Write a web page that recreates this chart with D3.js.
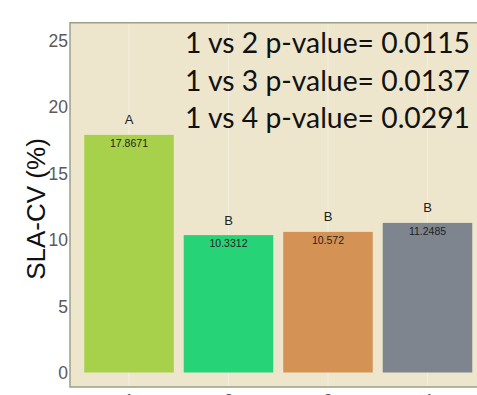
<!DOCTYPE html>
<html>
<head>
<meta charset="utf-8">
<script src="https://cdn.jsdelivr.net/npm/d3@7"></script>
<style>
  html, body { margin: 0; padding: 0; background: #ffffff; overflow: hidden; }
  svg { display: block; }
</style>
</head>
<body>
<svg id="chart" width="477" height="395"></svg>
<script>
// Groups, mean SLA-CV values and significance letters
const groups = ["1", "2", "3", "4"];
const values = [17.8671, 10.3312, 10.572, 11.2485];
const letters = ["A", "B", "B", "B"];
const colors = ["#A7D04B", "#27D377", "#D49354", "#7E858F"];
const yTicks = [0, 5, 10, 15, 20, 25];
const pNotes = ["1 vs 2 p-value= 0.0115", "1 vs 3 p-value= 0.0137", "1 vs 4 p-value= 0.0291"];

const svg = d3.select("#chart");

const x = d3.scaleBand()
  .domain(groups)
  .range([79.25, 477.25])
  .paddingInner(0.1)
  .paddingOuter(0.05);

const y = d3.scaleLinear()
  .domain([0, 25])
  .range([372.5, 40]);

// panel limits in data units
const yLo = -1.09, yHi = 26.3;
const panelLeft = 70;

// panel background
svg.append("rect")
  .attr("x", panelLeft)
  .attr("y", y(yHi))
  .attr("width", 480 - panelLeft + 20)
  .attr("height", y(yLo) - y(yHi))
  .attr("fill", "#EDE6CD");

// faint vertical grid at group centres
svg.append("g")
  .selectAll("line")
  .data(groups)
  .join("line")
  .attr("x1", d => x(d) + x.bandwidth() / 2)
  .attr("x2", d => x(d) + x.bandwidth() / 2)
  .attr("y1", y(yHi))
  .attr("y2", y(yLo))
  .attr("stroke", "#F3EFDF")
  .attr("stroke-width", 1);

// panel border (left, top, bottom)
svg.append("path")
  .attr("d", `M${480},${y(yHi)} H${panelLeft} V${y(yLo)} H${480}`)
  .attr("fill", "none")
  .attr("stroke", "#9AA086")
  .attr("stroke-width", 1.5);

// bars
svg.append("g")
  .selectAll("rect")
  .data(values)
  .join("rect")
  .attr("x", (d, i) => x(groups[i]))
  .attr("y", d => y(d))
  .attr("width", x.bandwidth())
  .attr("height", d => y(0) - y(d))
  .attr("fill", (d, i) => colors[i]);

// value labels inside the bars
svg.append("g")
  .selectAll("text")
  .data(values)
  .join("text")
  .attr("x", (d, i) => x(groups[i]) + x.bandwidth() / 2)
  .attr("y", d => y(d) + 12)
  .attr("text-anchor", "middle")
  .attr("font-family", "Liberation Sans, Arial, sans-serif")
  .attr("font-size", 10.5)
  .attr("fill", "#1f1f1f")
  .text(d => String(d));

// significance letters above the bars
svg.append("g")
  .selectAll("text")
  .data(values)
  .join("text")
  .attr("x", (d, i) => x(groups[i]) + x.bandwidth() / 2)
  .attr("y", d => y(d) - 10.5)
  .attr("text-anchor", "middle")
  .attr("font-family", "Liberation Sans, Arial, sans-serif")
  .attr("font-size", 13)
  .attr("fill", "#222")
  .text((d, i) => letters[i]);

// y axis tick labels
const yAxis = d3.axisLeft(y).tickValues(yTicks).tickSize(0).tickPadding(0);
const gy = svg.append("g")
  .attr("transform", `translate(${panelLeft - 2},0)`)
  .call(yAxis);
gy.select(".domain").remove();
gy.selectAll("text")
  .attr("font-family", "Liberation Sans, Arial, sans-serif")
  .attr("font-size", 17.5)
  .attr("fill", "#5a5a5a")
  .attr("dy", "0.36em");

// x axis tick labels (below the panel)
const xAxis = d3.axisBottom(x).tickSize(0).tickPadding(0);
const gx = svg.append("g")
  .attr("transform", `translate(0,${y(yLo) + 4})`)
  .call(xAxis);
gx.select(".domain").remove();
gx.selectAll("text")
  .attr("font-family", "Liberation Sans, Arial, sans-serif")
  .attr("font-size", 17.5)
  .attr("fill", "#5a5a5a")
  .attr("dy", "0.9em");

// y axis title
svg.append("text")
  .attr("transform", `translate(44.5,${209}) rotate(-90)`)
  .attr("text-anchor", "middle")
  .attr("font-family", "Liberation Sans, Arial, sans-serif")
  .attr("font-size", 26)
  .attr("fill", "#111")
  .text("SLA-CV (%)");

// pairwise comparison notes
svg.append("g")
  .selectAll("text")
  .data(pNotes)
  .join("text")
  .attr("x", 185)
  .attr("y", (d, i) => 53 + i * 37.5)
  .attr("font-family", "Lato, 'Open Sans', sans-serif")
  .attr("font-size", 29.5)
  .attr("fill", "#111")
  .attr("textLength", 285)
  .attr("lengthAdjust", "spacingAndGlyphs")
  .text(d => d);
</script>
</body>
</html>
